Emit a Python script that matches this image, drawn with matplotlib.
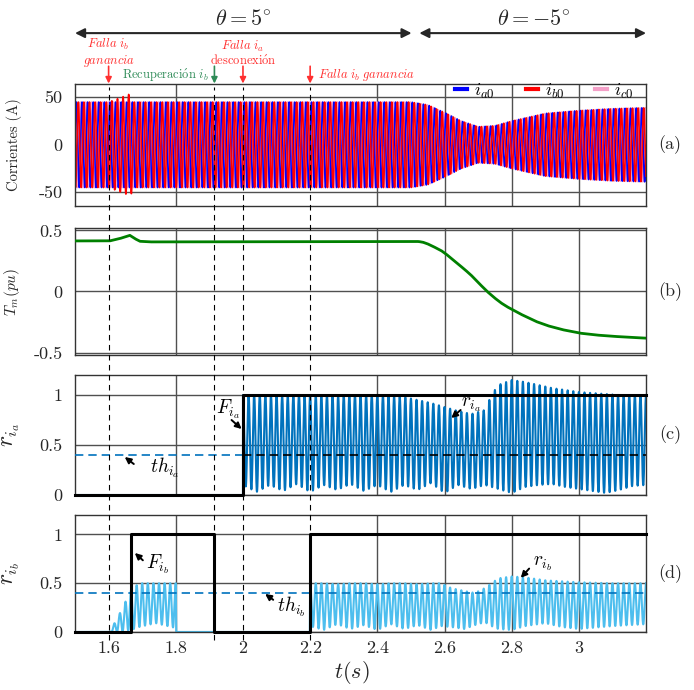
import numpy as np
import matplotlib
import matplotlib.pyplot as plt
from matplotlib.lines import Line2D
from matplotlib.transforms import blended_transform_factory

plt.rcParams['font.family'] = ['cmr10', 'DejaVu Serif']
plt.rcParams['mathtext.fontset'] = 'cm'
plt.rcParams['axes.unicode_minus'] = False
plt.rcParams['axes.formatter.use_mathtext'] = True

# ---- data ----
t0, t1 = 1.5, 3.2
f_grid = 60.0  # Hz

# (a) current amplitude envelope (A)
amp_t = [1.5, 2.5, 2.55, 2.6, 2.65, 2.7, 2.75, 2.8, 2.9, 3.0, 3.1, 3.2]
amp_v = [45, 45, 42, 34, 25, 19, 20, 25, 33, 36, 38, 39]
# gain fault on i_b
gain_t = [1.5, 1.6, 1.667, 1.670, 3.2]
gain_v = [1.0, 1.0, 1.2, 1.0, 1.0]

# (b) mechanical torque (pu)
tm_t = [1.5, 1.603, 1.633, 1.663, 1.678, 1.693, 1.722, 2.51, 2.523, 2.535, 2.548,
        2.563, 2.578, 2.59, 2.603, 2.62, 2.638, 2.658, 2.678, 2.70, 2.727, 2.747,
        2.767, 2.785, 2.803, 2.825, 2.847, 2.875, 2.907, 2.95, 3.003, 3.05,
        3.096, 3.15, 3.2]
tm_v = [0.414, 0.414, 0.433, 0.46, 0.433, 0.411, 0.406, 0.41, 0.409, 0.404, 0.392,
        0.373, 0.352, 0.335, 0.31, 0.272, 0.23, 0.185, 0.137, 0.074, 0.0, -0.048,
        -0.091, -0.123, -0.15, -0.183, -0.212, -0.248, -0.28, -0.312, -0.341,
        -0.356, -0.366, -0.375, -0.382]

# (c) residual r_ia envelopes
ria_t = [2.0, 2.04, 2.08, 2.12, 2.16, 2.2, 2.24, 2.28, 2.32, 2.36, 2.4, 2.44, 2.48,
         2.52, 2.56, 2.6, 2.64, 2.68, 2.72, 2.74, 2.76, 2.8, 2.84, 2.88, 2.92,
         2.96, 3.0, 3.04, 3.08, 3.12, 3.16, 3.2]
ria_top = [1.0, 1.0, 1.0, 0.99, 1.0, 1.0, 1.0, 0.99, 1.0, 1.0, 1.0, 0.99, 0.98,
           0.95, 0.92, 0.88, 0.84, 0.81, 0.85, 1.0, 1.1, 1.15, 1.13, 1.1, 1.07,
           1.05, 1.03, 1.02, 1.01, 1.0, 1.0, 1.0]
ria_bot = [0.1, 0.03, 0.1, 0.04, 0.11, 0.03, 0.1, 0.05, 0.11, 0.04, 0.1, 0.03, 0.1,
           0.05, 0.12, 0.02, 0.1, 0.06, 0.1, 0.08, 0.06, 0.02, 0.08, 0.1, 0.11,
           0.08, 0.06, 0.04, 0.02, 0.05, 0.09, 0.1]

# (d) residual r_ib envelopes
rib_t = [1.5, 1.603, 1.633, 1.667, 1.69, 1.74, 1.8, 1.801, 2.199, 2.2, 2.24, 2.28,
         2.32, 2.36, 2.4, 2.44, 2.48, 2.52, 2.56, 2.59, 2.62, 2.66, 2.69, 2.72,
         2.74, 2.76, 2.8, 2.84, 2.9, 2.95, 3.0, 3.1, 3.2]
rib_top = [0.0, 0.0, 0.19, 0.43, 0.5, 0.5, 0.5, 0.0, 0.0, 0.5, 0.5, 0.49, 0.5,
           0.5, 0.49, 0.5, 0.5, 0.49, 0.5, 0.5, 0.45, 0.42, 0.4, 0.45, 0.5,
           0.55, 0.57, 0.56, 0.53, 0.52, 0.51, 0.5, 0.5]
rib_bot = [0.0, 0.0, 0.0, 0.02, 0.05, 0.09, 0.04, 0.0, 0.0, 0.06, 0.02, 0.08,
           0.03, 0.07, 0.02, 0.08, 0.03, 0.07, 0.02, 0.06, 0.05, 0.03, 0.07, 0.1,
           0.06, 0.03, 0.02, 0.06, 0.09, 0.05, 0.03, 0.06, 0.08]

# fault flags
fia_t = [1.5, 2.0, 2.0, 3.2]
fia_v = [0, 0, 1, 1]
fib_t = [1.5, 1.667, 1.667, 1.915, 1.915, 2.2, 2.2, 3.2]
fib_v = [0, 0, 1, 1, 0, 0, 1, 1]

threshold = 0.4
event_t = [1.6, 1.915, 2.0, 2.2]
xticks = [1.6, 1.8, 2.0, 2.2, 2.4, 2.6, 2.8, 3.0]
xticklabels = ['1.6', '1.8', '2', '2.2', '2.4', '2.6', '2.8', '3']
vgrid = [1.8, 2.4, 2.6, 2.8, 3.0]

# ---- build waveforms ----
t = np.arange(t0, t1, 1e-4)
w = 2 * np.pi * f_grid * t
amp = np.interp(t, amp_t, amp_v)
gain = np.interp(t, gain_t, gain_v)
ia = amp * np.sin(w)
ib = amp * gain * np.sin(w - 2 * np.pi / 3)
ic = amp * np.sin(w + 2 * np.pi / 3)
tm = np.interp(t, tm_t, tm_v)

carrier = 0.5 + 0.5 * np.cos(w)
top_a = np.interp(t, ria_t, ria_top, left=0)
bot_a = np.interp(t, ria_t, ria_bot, left=0)
ria = bot_a + (top_a - bot_a) * carrier
top_b = np.interp(t, rib_t, rib_top)
bot_b = np.interp(t, rib_t, rib_bot)
rib = bot_b + (top_b - bot_b) * carrier

# ---- figure ----
fig = plt.figure(figsize=(6.94, 6.90), dpi=100)
L, W = 0.1081, 0.8228
ax_a = fig.add_axes([L, 0.7014, W, 0.1768])
ax_b = fig.add_axes([L, 0.4855, W, 0.1841])
ax_c = fig.add_axes([L, 0.2826, W, 0.1739])
ax_d = fig.add_axes([L, 0.0841, W, 0.1696])
axes = [ax_a, ax_b, ax_c, ax_d]

gridc = '#505050'
for ax, yt, ytl, lims in [
        (ax_a, [-50, 0, 50], ['-50', '0', '50'], (-64.5, 64)),
        (ax_b, [-0.5, 0, 0.5], ['-0.5', '0', '0.5'], (-0.52, 0.52)),
        (ax_c, [0, 0.5, 1], ['0', '0.5', '1'], (0, 1.2)),
        (ax_d, [0, 0.5, 1], ['0', '0.5', '1'], (0, 1.2))]:
    ax.set_xlim(t0, t1)
    ax.set_ylim(*lims)
    ax.set_yticks(yt)
    ax.set_yticklabels(ytl)
    ax.set_xticks(xticks)
    ax.tick_params(length=0, labelsize=13, pad=9, colors='#262626')
    for v in yt:
        ax.axhline(v, color=gridc, lw=1.0, zorder=0.5)
    for v in vgrid:
        ax.axvline(v, color=gridc, lw=1.0, zorder=0.5)
    for s in ax.spines.values():
        s.set_color('#333333')
        s.set_linewidth(1.0)
    ax.yaxis.set_label_coords(-0.092, 0.5)

for ax in axes[:3]:
    ax.set_xticklabels([])
ax_d.set_xticklabels(xticklabels)
ax_d.tick_params(axis='x', pad=6)

# (a) currents
ax_a.plot(t, ic, color='#F4A0C8', lw=1.2, zorder=2)
ax_a.plot(t, ia, color='#0000FF', lw=1.2, zorder=2)
ax_a.plot(t, ib, color='#FF0000', lw=1.2, zorder=2)
handles = [Line2D([], [], color='#0000FF', lw=3),
           Line2D([], [], color='#FF0000', lw=3),
           Line2D([], [], color='#F4A0C8', lw=3)]
ax_a.legend(handles, [r'$i_{a0}$', r'$i_{b0}$', r'$i_{c0}$'], loc='upper right',
            ncol=3, frameon=False, fontsize=13, handlelength=0.65,
            handletextpad=0.4, columnspacing=1.7, borderaxespad=0.0,
            borderpad=0.0, bbox_to_anchor=(0.978, 1.02))
ax_a.set_ylabel('Corrientes (A)', fontsize=10.5, color='#262626')

# (b) torque
ax_b.plot(t, tm, color='#008000', lw=2.0, zorder=3)
ax_b.set_ylabel(r'$T_m(pu)$', fontsize=11, color='#262626')

# (c)
ax_c.plot(t, ria, color='#0072BD', lw=1.5, zorder=2)
ax_c.plot([t0, 2.0], [threshold, threshold], color='#0072BD', lw=1.2,
          ls=(0, (5, 3)), zorder=3)
ax_c.plot([2.0, t1], [threshold, threshold], color='black', lw=1.2,
          ls=(0, (5, 3)), zorder=3)
ax_c.plot(fia_t, fia_v, color='black', lw=2.2, zorder=4, clip_on=False)
ax_c.set_ylabel(r'$r_{i_a}$', fontsize=17, color='#262626')

# (d)
ax_d.plot(t, rib, color='#4DBEEE', lw=1.5, zorder=2)
ax_d.plot([t0, t1], [threshold, threshold], color='#0072BD', lw=1.2,
          ls=(0, (5, 3)), zorder=3)
ax_d.plot(fib_t, fib_v, color='black', lw=2.2, zorder=4, clip_on=False)
ax_d.set_ylabel(r'$r_{i_b}$', fontsize=17, color='#262626')

# in-panel annotations
arr = dict(arrowstyle='-|>', color='black', lw=1.4, mutation_scale=9,
           shrinkA=0, shrinkB=0)
ax_c.text(1.955, 0.86, r'$F_{i_a}$', fontsize=14, ha='center', va='center')
ax_c.annotate('', xy=(1.996, 0.66), xytext=(1.966, 0.75), arrowprops=arr)
ax_c.text(1.722, 0.27, r'$th_{i_a}$', fontsize=14, ha='left', va='center')
ax_c.annotate('', xy=(1.648, 0.38), xytext=(1.675, 0.31), arrowprops=arr)
ax_c.text(2.678, 0.9, r'$r_{i_a}$', fontsize=14, ha='center', va='center')
ax_c.annotate('', xy=(2.62, 0.77), xytext=(2.648, 0.85), arrowprops=arr)

ax_d.text(1.71, 0.69, r'$F_{i_b}$', fontsize=14, ha='left', va='center')
ax_d.annotate('', xy=(1.678, 0.81), xytext=(1.702, 0.735), arrowprops=arr)
ax_d.text(2.10, 0.26, r'$th_{i_b}$', fontsize=14, ha='left', va='center')
ax_d.annotate('', xy=(2.066, 0.39), xytext=(2.09, 0.33), arrowprops=arr)
ax_d.text(2.862, 0.70, r'$r_{i_b}$', fontsize=14, ha='left', va='center')
ax_d.annotate('', xy=(2.827, 0.555), xytext=(2.852, 0.65), arrowprops=arr)

# panel letters
for ax, lab in zip(axes, ['(a)', '(b)', '(c)', '(d)']):
    ax.text(1.042, 0.5, lab, transform=ax.transAxes, fontsize=13,
            ha='center', va='center', color='#262626')

fig.text(352 / 694, 0.026, r'$t(s)$', ha='center', va='center', fontsize=16,
         color='#262626')

# figure-level marks with x in data units
tr = blended_transform_factory(ax_d.transData, fig.transFigure)
for te in event_t:
    fig.add_artist(Line2D([te, te], [0.073, 0.874], transform=tr, color='black',
                          lw=0.8, ls=(0, (5, 4)), zorder=5))

top_arr = dict(arrowstyle='<|-|>', color='#262626', lw=1.5, mutation_scale=14,
               shrinkA=0, shrinkB=0)
ax_d.annotate('', xy=(1.5, 0.952), xytext=(2.502, 0.952), xycoords=tr,
              textcoords=tr, arrowprops=top_arr, annotation_clip=False)
ax_d.annotate('', xy=(2.525, 0.952), xytext=(3.2, 0.952), xycoords=tr,
              textcoords=tr, arrowprops=top_arr, annotation_clip=False)
fig.text(2.0, 0.972, r'$\theta = 5^{\circ}$', transform=tr, fontsize=16,
         ha='center', va='center', color='#262626')
fig.text(2.865, 0.972, r'$\theta = -5^{\circ}$', transform=tr, fontsize=16,
         ha='center', va='center', color='#262626')

red = '#FF3030'
green = '#2E8B57'
small_arr = dict(arrowstyle='-|>', lw=1.2, mutation_scale=9, shrinkA=0, shrinkB=0)
for te, c in [(1.6, red), (1.915, green), (2.0, red), (2.2, red)]:
    ax_d.annotate('', xy=(te, 0.879), xytext=(te, 0.904), xycoords=tr,
                  textcoords=tr, arrowprops=dict(small_arr, color=c),
                  annotation_clip=False)
fig.text(1.6, 0.935, r'$\mathit{Falla}\ i_b$', transform=tr, fontsize=9,
         ha='center', va='center', color=red)
fig.text(1.6, 0.912, r'$\mathit{ganancia}$', transform=tr, fontsize=9,
         ha='center', va='center', color=red)
fig.text(1.898, 0.891, r'$\mathrm{Recuperaci\acute{o}n}\ i_b$', transform=tr,
         fontsize=9, ha='right', va='center', color=green)
fig.text(2.0, 0.932, r'$\mathit{Falla}\ i_a$', transform=tr, fontsize=9,
         ha='center', va='center', color=red)
fig.text(2.0, 0.911, r'$\mathrm{desconexi\acute{o}n}$', transform=tr,
         fontsize=9, ha='center', va='center', color=red)
fig.text(2.222, 0.891, r'$\mathit{Falla}\ i_b\ \mathit{ganancia}$', transform=tr,
         fontsize=9, ha='left', va='center', color=red)

fig.savefig('out.png', dpi=100)
